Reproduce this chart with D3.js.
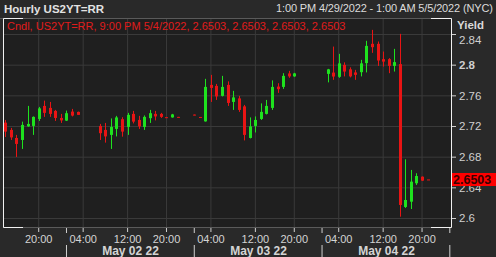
<!DOCTYPE html>
<html lang="en">
<head>
<meta charset="UTF-8">
<title>Hourly US2YT=RR</title>
<style>
    body {
        margin: 0;
        background-color: #292929;
    }
    svg {
        display: block;
        font-family: "Liberation Sans", Arial, sans-serif;
    }
</style>
<script src="https://d3js.org/d3.v7.min.js"></script>
</head>
<body>
<div id="chart"></div>
<script>
// hourly bars per trading day (NYC time)
const sessions = [
    { day: "Apr 29 22", hours: [13, 14, 15, 16, 18, 19, 20, 21, 22, 23] },
    { day: "May 02 22", hours: [0, 1, 2, 3, 4, 5, 6, 7, 8, 9, 10, 11, 12, 13, 14, 15, 16, 18, 19, 20, 21, 22, 23] },
    { day: "May 03 22", hours: [0, 1, 2, 3, 4, 5, 6, 7, 8, 9, 10, 11, 12, 13, 14, 15, 16, 18, 19, 20, 21, 22, 23] },
    { day: "May 04 22", hours: [0, 1, 2, 3, 4, 5, 6, 7, 8, 9, 10, 11, 12, 13, 14, 15, 16, 18, 19, 20, 21, 22, 23] },
    { day: "May 05 22", hours: [0, 1] }
];

// OHLC per slot, null = no trade
const open = [
    2.7244, 2.7149, 2.7044, 2.7018, 2.7195, 2.7201, 2.7292, 2.7462, 2.7436, 2.7397,
    2.7305, 2.7270, 2.7388, 2.7384, null, null, null, 2.7201, 2.7149, 2.7084,
    2.7162, 2.7289, 2.7188, 2.7358, 2.7279, 2.7188, 2.7302, 2.7358, 2.7358, 2.7315,
    2.7312, 2.7319, null, null, 2.7349, 2.7318, 2.7260, 2.7736, 2.7723, 2.7593,
    2.7736, 2.7514, 2.7560, 2.7456, 2.7044, 2.7201, 2.7292, 2.7358, 2.7436, 2.7714,
    2.7710, 2.7886, 2.7847, null, null, null, null, null, 2.7880, 2.7897,
    2.7841, 2.7997, 2.7939, 2.7899, 2.7902, 2.8020, 2.8272, 2.8272, 2.8072, 2.8072,
    2.7984, 2.8007, 2.6144, 2.6213, 2.6453, 2.6539, 2.6503, null, null, null, null
];
const high = [
    2.7279, 2.7175, 2.7084, 2.7257, 2.7462, 2.7325, 2.7449, 2.7531, 2.7514, 2.7410,
    2.7358, 2.7401, 2.7423, 2.7388, null, null, null, 2.7227, 2.7240, 2.7299,
    2.7332, 2.7315, 2.7371, 2.7397, 2.7332, 2.7338, 2.7410, 2.7397, 2.7371, 2.7315,
    2.7358, 2.7319, null, null, 2.7349, 2.7318, 2.7815, 2.7867, 2.7749, 2.7854,
    2.7782, 2.7658, 2.7593, 2.7475, 2.7312, 2.7325, 2.7495, 2.7540, 2.7795, 2.7758,
    2.7889, 2.7919, 2.7893, null, null, null, null, null, 2.7945, 2.8236,
    2.8141, 2.8030, 2.7965, 2.7932, 2.8063, 2.8311, 2.8454, 2.8302, 2.8171, 2.8085,
    2.8206, 2.8402, 2.6766, 2.6627, 2.6584, 2.6542, 2.6503, null, null, null, null
];
const low = [
    2.7057, 2.7018, 2.6796, 2.6901, 2.7188, 2.7084, 2.7266, 2.7319, 2.7319, 2.7266,
    2.7240, 2.7266, 2.7325, 2.7345, null, null, null, 2.7018, 2.6983, 2.6901,
    2.7064, 2.7061, 2.7084, 2.7234, 2.7162, 2.7149, 2.7240, 2.7273, 2.7305, 2.7305,
    2.7309, 2.7310, null, null, 2.7340, 2.7310, 2.7257, 2.7514, 2.7540, 2.7586,
    2.7462, 2.7410, 2.7384, 2.7012, 2.7038, 2.7116, 2.7279, 2.7351, 2.7410, 2.7632,
    2.7684, 2.7828, 2.7841, null, null, null, null, null, 2.7769, 2.7802,
    2.7828, 2.7847, 2.7834, 2.7802, 2.7847, 2.7899, 2.8154, 2.7984, 2.7975, 2.7889,
    2.7910, 2.6017, 2.6131, 2.6117, 2.6431, 2.6483, 2.6503, null, null, null, null
];
const close = [
    2.7127, 2.7051, 2.6966, 2.7214, 2.7227, 2.7319, 2.7430, 2.7371, 2.7358, 2.7305,
    2.7273, 2.7367, 2.7336, 2.7345, null, null, null, 2.7106, 2.7064, 2.7188,
    2.7312, 2.7127, 2.7345, 2.7257, 2.7195, 2.7319, 2.7367, 2.7325, 2.7319, 2.7305,
    2.7351, 2.7310, null, null, 2.7340, 2.7310, 2.7710, 2.7697, 2.7586, 2.7710,
    2.7501, 2.7573, 2.7410, 2.7084, 2.7195, 2.7279, 2.7384, 2.7462, 2.7710, 2.7680,
    2.7854, 2.7847, 2.7886, null, null, null, null, null, 2.7939, 2.7845,
    2.8017, 2.7910, 2.7847, 2.7867, 2.8017, 2.8245, 2.8228, 2.8054, 2.8040, 2.7984,
    2.8033, 2.6170, 2.6235, 2.6474, 2.6548, 2.6487, 2.6503, null, null, null, null
];

const yTicks = [2.6, 2.64, 2.68, 2.72, 2.76, 2.8, 2.84];
const hourTicks = ["04:00", "12:00", "20:00"];
const lastPrice = 2.6503;
const titleText = "Hourly US2YT=RR";
const rangeText = "1:00 PM 4/29/2022 - 1:00 AM 5/5/2022 (NYC)";
const legendText = "Cndl, US2YT=RR, 9:00 PM 5/4/2022, 2.6503, 2.6503, 2.6503, 2.6503";

const W = 496, H = 257;
const plot = { left: 3, right: 451, top: 18, bottom: 228 };
const green = "#1ee21e", red = "#e81414";

const pad = h => (h < 10 ? "0" : "") + h + ":00";
const slots = sessions.flatMap(s => s.hours.map(h => ({ day: s.day, hour: pad(h), key: s.day + " " + pad(h) })));
const keys = slots.map(s => s.key);

const x = d3.scaleBand().domain(keys).range([2.6, 452.6]);
const y = d3.scaleLinear().domain([2.6, 2.84]).range([218, 34]);
const cx = k => Math.round(x(k) + x.bandwidth() / 2);

const svg = d3.select("#chart").append("svg")
    .attr("width", W)
    .attr("height", H);

svg.append("rect").attr("width", W).attr("height", H).attr("fill", "#292929");
svg.append("rect")
    .attr("x", plot.left).attr("y", plot.top)
    .attr("width", plot.right - plot.left).attr("height", plot.bottom - plot.top)
    .attr("fill", "#1f1f1f");

// grid
const gridKeys = slots.filter(s => hourTicks.includes(s.hour)).map(s => s.key);
svg.append("g")
    .attr("transform", `translate(0,${plot.bottom})`)
    .call(d3.axisBottom(x).tickValues(gridKeys).tickSize(-(plot.bottom - plot.top)).tickFormat(""))
    .call(g => g.select(".domain").remove())
    .call(g => g.selectAll("line").attr("stroke", "#3a3a3a"));
svg.append("g")
    .attr("transform", `translate(${plot.left},0)`)
    .call(d3.axisLeft(y).tickValues(yTicks).tickSize(-(plot.right - plot.left)).tickFormat(""))
    .call(g => g.select(".domain").remove())
    .call(g => g.selectAll("line").attr("stroke", "#3a3a3a"));

// candles
const bars = slots.map((s, i) => ({ key: s.key, o: open[i], h: high[i], l: low[i], c: close[i] }))
    .filter(d => d.o != null);
const candle = svg.append("g").selectAll("g").data(bars).join("g");
candle.append("line")
    .attr("x1", d => cx(d.key) + 0.5).attr("x2", d => cx(d.key) + 0.5)
    .attr("y1", d => y(d.h)).attr("y2", d => y(d.l))
    .attr("stroke", d => d.c > d.o ? green : red);
candle.append("rect")
    .attr("x", d => cx(d.key) - 1)
    .attr("width", 3)
    .attr("y", d => y(Math.max(d.o, d.c)))
    .attr("height", d => Math.max(1, y(Math.min(d.o, d.c)) - y(Math.max(d.o, d.c))))
    .attr("fill", d => d.c > d.o ? green : red);

// frame
const frame = svg.append("g").attr("fill", "none");
frame.append("path")
    .attr("d", `M0,${plot.top + 0.5}H${plot.right}M${plot.left},${plot.bottom - 0.5}H${plot.right}`)
    .attr("stroke", "#5a5a5a");
frame.append("path")
    .attr("d", `M${plot.left + 20},${plot.top + 0.5}H${plot.left + 0.5}V${plot.bottom - 0.5}H${plot.left + 20}` +
        `M${plot.right - 20},${plot.top + 0.5}H${plot.right + 0.5}V${plot.bottom - 0.5}H${plot.right - 20}`)
    .attr("stroke", "#f0f0f0");

// x axis: hours
svg.append("g")
    .attr("transform", `translate(0,${plot.bottom})`)
    .call(d3.axisBottom(x).tickValues(gridKeys).tickSize(4).tickPadding(3)
        .tickFormat(k => slots[keys.indexOf(k)].hour))
    .call(g => g.select(".domain").remove())
    .call(g => g.selectAll("line").attr("stroke", "#d0d0d0"))
    .call(g => g.selectAll("text").attr("fill", "#d4d4d4").attr("font-size", 11)
        .attr("font-family", "Liberation Sans, Arial, sans-serif"));

// x axis: day separators + dates
const sepKeys = slots.filter(s => s.hour === "01:00").map(s => s.key);
svg.append("g")
    .attr("transform", `translate(0,${plot.bottom})`)
    .call(d3.axisBottom(x).tickValues(sepKeys).tickSize(5).tickFormat(""))
    .call(g => g.select(".domain").remove())
    .call(g => g.selectAll("line").attr("stroke", "#d0d0d0"));
svg.append("g")
    .attr("transform", `translate(0,${H})`)
    .call(d3.axisTop(x).tickValues(sepKeys).tickSize(12).tickFormat(""))
    .call(g => g.select(".domain").remove())
    .call(g => g.selectAll("line").attr("stroke", "#d0d0d0"));

const dayLabels = sepKeys.slice(0, -1).map((k, i) => ({
    text: slots[keys.indexOf(k)].day,
    x: (cx(k) + cx(sepKeys[i + 1])) / 2
}));
svg.append("g").selectAll("text").data(dayLabels).join("text")
    .attr("x", d => d.x + 0.5)
    .attr("y", 254.5)
    .attr("text-anchor", "middle")
    .attr("font-size", 12)
    .attr("font-weight", "bold")
    .attr("fill", "#d4d4d4")
    .text(d => d.text);

// y axis
svg.append("g")
    .attr("transform", `translate(${plot.right + 1},0)`)
    .call(d3.axisRight(y).tickValues(yTicks).tickSize(4).tickPadding(3).tickFormat(d3.format("")))
    .call(g => g.select(".domain").remove())
    .call(g => g.selectAll("line").attr("stroke", "#d0d0d0"))
    .call(g => g.selectAll("text").attr("fill", "#cfcfcf").attr("font-size", 11.5)
        .attr("font-family", "Liberation Sans, Arial, sans-serif"))
    .call(g => g.selectAll(".tick").filter(d => d === 2.8).select("text").attr("font-weight", "bold"))
    .call(g => g.selectAll(".tick").filter(d => d === 2.84).select("text").attr("dy", "0.85em"));

svg.append("text")
    .attr("x", 457).attr("y", 29)
    .attr("font-size", 11.5).attr("font-weight", "bold")
    .attr("fill", "#d8d8d8")
    .text("Yield");

// last price tag
const ly = Math.round(y(lastPrice));
svg.append("rect")
    .attr("x", plot.right + 1).attr("y", ly - 6)
    .attr("width", W - plot.right - 1).attr("height", 13)
    .attr("fill", "#ff0000");
svg.append("text")
    .attr("x", plot.right + 2).attr("y", ly + 5)
    .attr("font-size", 12.5).attr("font-weight", "bold")
    .attr("fill", "#3a0000")
    .text(d3.format(".4f")(lastPrice));

// header
svg.append("text")
    .attr("x", 4).attr("y", 12.5)
    .attr("font-size", 11.5).attr("font-weight", "bold")
    .attr("fill", "#e2e2e2")
    .text(titleText);
svg.append("text")
    .attr("x", 493).attr("y", 12)
    .attr("text-anchor", "end")
    .attr("font-size", 11)
    .attr("textLength", 217)
    .attr("fill", "#dcdcdc")
    .text(rangeText);
svg.append("text")
    .attr("x", 7).attr("y", 29.5)
    .attr("font-size", 11)
    .attr("fill", "#e01c1c")
    .text(legendText);
</script>
</body>
</html>
